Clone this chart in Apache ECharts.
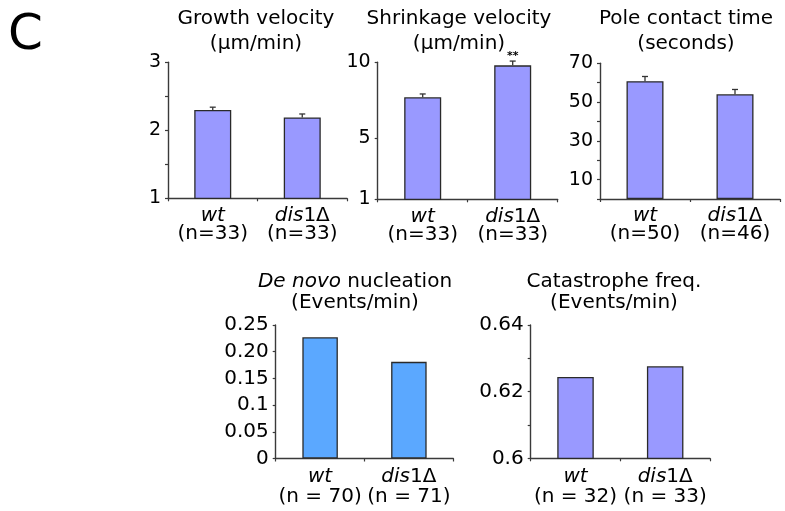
<!DOCTYPE html>
<html>
<head>
<meta charset="utf-8">
<script src="https://cdn.jsdelivr.net/npm/echarts@6/dist/echarts.min.js"></script>
<style>html,body{margin:0;padding:0;background:#fff}#c{width:785px;height:511px}</style>
</head>
<body>
<div id="c"></div>
<script>
// ---- data ----
const genotypes = ['wt', 'dis1Δ'];
const growthN = [33, 33];
const shrinkN = [33, 33];
const poleN = [50, 46];
const deNovoN = [70, 71];
const catN = [32, 33];

const growthMean = [2.30, 2.19];
const growthErr = [0.04, 0.05];
const shrinkMean = [7.70, 9.80];
const shrinkErr = [0.22, 0.28];
const shrinkSig = ['', '**'];
const poleMean = [60.8, 54.0];
const poleErr = [2.4, 2.5];
const deNovoRate = [0.227, 0.181];
const catFreq = [0.6244, 0.6276];

const growthTicks = [1, 1.5, 2, 2.5, 3];
const growthLabels = [1, 2, 3];
const shrinkTicks = [1, 5, 10];
const shrinkLabels = [1, 5, 10];
const poleTicks = [0, 10, 20, 30, 40, 50, 60, 70];
const poleLabels = [10, 30, 50, 70];
const deNovoTicks = [0, 0.05, 0.1, 0.15, 0.2, 0.25];
const deNovoLabels = ['0', '0.05', '0.1', '0.15', '0.20', '0.25'];
const catTicks = [0.6, 0.61, 0.62, 0.63, 0.64];
const catLabels = [0.6, 0.62, 0.64];

const titles = [
  ['Growth velocity', '(µm/min)'],
  ['Shrinkage velocity', '(µm/min)'],
  ['Pole contact time', '(seconds)'],
  ['{i|De novo} nucleation', '(Events/min)'],
  ['Catastrophe freq.', '(Events/min)']
];

// ---- styling ----
const FONT = 'DejaVu Sans';
const BAR = '#9999FF';
const BAR2 = '#5BA8FF';
const EDGE = '#2a2a2a';
const AX = '#3a3a3a';
const TXT = '#000';

function catLabel(nArr, spaced) {
  return function (v, i) {
    const n = spaced ? '(n = ' + nArr[i] + ')' : '(n=' + nArr[i] + ')';
    const g = v === 'wt' ? '{i|wt}' : '{i|dis}1Δ';
    return g + '\n' + n;
  };
}

function xAxis(gi, nArr, spaced, lh, margin) {
  return {
    type: 'category', gridIndex: gi, data: genotypes,
    axisLine: {show: true, lineStyle: {color: AX, width: 1.4}},
    axisTick: {show: true, length: 3, lineStyle: {color: AX, width: 1.2}},
    axisLabel: {
      formatter: catLabel(nArr, spaced), margin: margin, interval: 0,
      fontFamily: FONT, fontSize: 20, color: TXT, lineHeight: lh,
      rich: {i: {fontFamily: FONT, fontSize: 20, fontStyle: 'italic', color: TXT, lineHeight: lh}}
    }
  };
}

function yAxis(gi, min, max, ticks, labels, fmt, size, padB) {
  return {
    type: 'value', gridIndex: gi, min: min, max: max,
    splitLine: {show: false},
    axisLine: {show: true, lineStyle: {color: AX, width: 1.4}},
    axisTick: {show: true, length: 3, customValues: ticks, lineStyle: {color: AX, width: 1.2}},
    axisLabel: {
      customValues: labels, formatter: fmt, margin: 7,
      fontFamily: FONT, fontSize: size, color: TXT, padding: [0, 0, padB, 0]
    }
  };
}

function errSeries(xi, yi, mean, err) {
  return {
    type: 'custom', xAxisIndex: xi, yAxisIndex: yi, clip: false, z: 5,
    data: mean.map((m, i) => [i, m, m + err[i]]),
    renderItem: function (params, api) {
      const b = api.coord([api.value(0), api.value(1)]);
      const t = api.coord([api.value(0), api.value(2)]);
      const st = {stroke: '#333', lineWidth: 1.3};
      return {type: 'group', children: [
        {type: 'line', shape: {x1: b[0], y1: b[1], x2: b[0], y2: t[1]}, style: st},
        {type: 'line', shape: {x1: b[0] - 3, y1: t[1], x2: b[0] + 3, y2: t[1]}, style: st}
      ]};
    }
  };
}

function barSeries(xi, yi, data, color, w, extraLabel) {
  const s = {
    type: 'bar', xAxisIndex: xi, yAxisIndex: yi, data: data, barWidth: w,
    itemStyle: {color: color, borderColor: EDGE, borderWidth: 1.3},
    animation: false
  };
  if (extraLabel) {
    s.label = {show: true, position: 'top', distance: 4,
      formatter: p => extraLabel[p.dataIndex], fontFamily: FONT,
      fontSize: 11, fontWeight: 'bold', color: TXT};
  }
  return s;
}

const titleCenters = [[256, 6, 25], [459, 6, 25], [686, 6, 25], [355, 271, 21], [614, 271, 21]];

const option = {
  animation: false,
  title: [{text: 'C', left: 8, top: 11, padding: 0,
      textStyle: {fontFamily: FONT, fontSize: 50, lineHeight: 50, fontWeight: 'normal', color: TXT}}]
    .concat(titles.map((t, i) => ({
      text: t[0] + '\n' + t[1], left: titleCenters[i][0], top: titleCenters[i][1],
      textAlign: 'center', padding: 0,
      textStyle: {fontFamily: FONT, fontSize: 20, fontWeight: 'normal', color: TXT,
        lineHeight: titleCenters[i][2],
        rich: {i: {fontFamily: FONT, fontSize: 20, fontStyle: 'italic', color: TXT, lineHeight: titleCenters[i][2]}}}
    }))),
  grid: [
    {left: 168, top: 62.3, width: 179, height: 136},
    {left: 377.7, top: 62.3, width: 180, height: 137},
    {left: 600, top: 63.3, width: 180, height: 135.7},
    {left: 275.7, top: 325, width: 177.6, height: 133.5},
    {left: 530.7, top: 325, width: 179.3, height: 133.3}
  ],
  xAxis: [
    xAxis(0, growthN, false, 18, 8),
    xAxis(1, shrinkN, false, 18, 8),
    xAxis(2, poleN, false, 18, 8),
    xAxis(3, deNovoN, true, 20, 8),
    xAxis(4, catN, true, 20, 8)
  ],
  yAxis: [
    yAxis(0, 1, 3, growthTicks, growthLabels, v => String(v), 19, 3),
    yAxis(1, 1, 10, shrinkTicks, shrinkLabels, v => String(v), 19, 3),
    yAxis(2, 0, 70, poleTicks, poleLabels, v => String(v), 19, 3),
    yAxis(3, 0, 0.25, deNovoTicks, deNovoTicks, v => {
      let k = 0; deNovoTicks.forEach((t, i) => { if (Math.abs(t - v) < 1e-6) k = i; });
      return deNovoLabels[k];
    }, 20, 10),
    yAxis(4, 0.6, 0.64, catTicks, catLabels, v => String(Math.round(v * 100) / 100), 20, 9)
  ],
  series: [
    barSeries(0, 0, growthMean, BAR, 37),
    errSeries(0, 0, growthMean, growthErr),
    barSeries(1, 1, shrinkMean, BAR, 37, shrinkSig),
    errSeries(1, 1, shrinkMean, shrinkErr),
    barSeries(2, 2, poleMean, BAR, 37),
    errSeries(2, 2, poleMean, poleErr),
    barSeries(3, 3, deNovoRate, BAR2, 35.5),
    barSeries(4, 4, catFreq, BAR, 36.5)
  ]
};

const chart = echarts.init(document.getElementById('c'), null, {renderer: 'canvas'});
chart.setOption(option);
</script>
</body>
</html>
